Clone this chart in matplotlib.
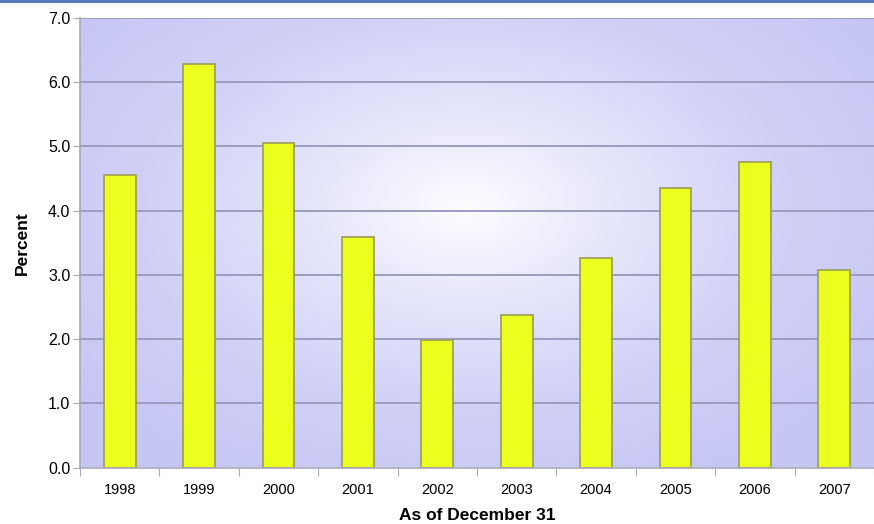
import numpy as np
import matplotlib
matplotlib.use("Agg")
import matplotlib.pyplot as plt
from matplotlib.lines import Line2D
from matplotlib.colors import LinearSegmentedColormap

years = ["1998", "1999", "2000", "2001", "2002", "2003", "2004", "2005", "2006", "2007"]
values = [4.56, 6.28, 5.06, 3.59, 1.98, 2.37, 3.26, 4.36, 4.75, 3.07]
yticks = [0.0, 1.0, 2.0, 3.0, 4.0, 5.0, 6.0, 7.0]

font = ["Liberation Sans Narrow", "Liberation Sans", "DejaVu Sans"]
plt.rcParams["font.family"] = font

fig = plt.figure(figsize=(8.74, 5.24), dpi=100)
W, H = 874, 524
ax = fig.add_axes([80 / W, 1 - 467.5 / H, (874 - 80) / W, (467.5 - 18) / H])

x = np.arange(len(years))
xmin, xmax = -0.5, (874 - 120) / 80

# radial gradient background
nx, ny = 400, 250
gx = np.linspace(0, 1, nx)
gy = np.linspace(0, 1, ny)
GX, GY = np.meshgrid(gx, gy)
cx, cy = 0.49, 0.57
r = np.sqrt(((GX - cx) / 0.6) ** 2 + ((GY - cy) / 0.65) ** 2)
r = np.clip(r, 0, 1)
cmap = LinearSegmentedColormap.from_list("bg", ["#fdfdff", "#e4e4fb", "#d0d0f7", "#c6c6f4"])
ax.imshow(r, cmap=cmap, extent=[xmin - 0.2, xmax + 0.2, -0.2, 7.2], origin="lower",
          aspect="auto", zorder=0, interpolation="bicubic", vmin=0, vmax=1)
ax.set_xlim(xmin, xmax)
ax.set_ylim(0, 7)

for t in yticks[1:]:
    ax.axhline(t, color="#9c9cc0", lw=1.4, zorder=1)

ax.bar(x, values, width=0.4, color="#eaff1e", edgecolor="#9c9c55", linewidth=1.2, zorder=2)

for s in ["top", "right"]:
    ax.spines[s].set_visible(False)
for s in ["left", "bottom"]:
    ax.spines[s].set_color("#a8a8b8")
    ax.spines[s].set_linewidth(1.2)

ax.set_yticks(yticks)
ax.set_yticklabels([f"{v:.1f}" for v in yticks], fontsize=11.5)
ax.tick_params(axis="y", length=5, color="#a8a8b8", pad=2)

ax.set_xticks(np.arange(-0.5, len(years), 1.0))
ax.set_xticklabels([])
ax.tick_params(axis="x", which="major", length=6, color="#a8a8b8")
ax.set_xticks(x, minor=True)
ax.set_xticklabels(years, minor=True, fontsize=10.5)
ax.tick_params(axis="x", which="minor", length=0, pad=11)

ax.set_xlabel("As of December 31", fontsize=12.5, fontweight="bold", labelpad=8)
ax.set_ylabel("Percent", fontsize=12.5, fontweight="bold", labelpad=13)

fig.add_artist(Line2D([0, 1], [1 - 1 / H, 1 - 1 / H], color="#4a70b8", lw=2.0,
                      transform=fig.transFigure))

fig.savefig("out.png", dpi=100)
